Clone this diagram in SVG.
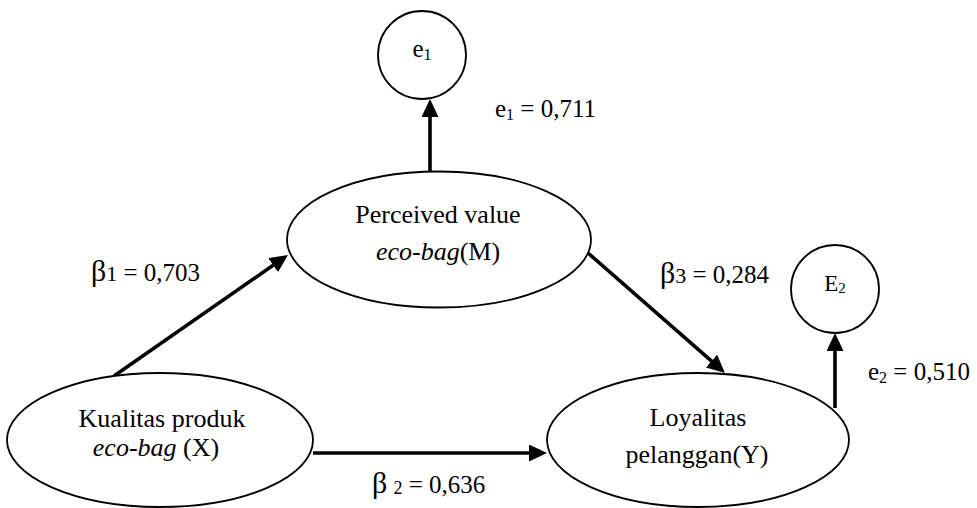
<svg xmlns="http://www.w3.org/2000/svg" width="977" height="508" viewBox="0 0 977 508">
<style>
.node{fill:#fff;stroke:#000;stroke-width:1.8}
.t{font-family:"Liberation Serif","Times New Roman",serif;fill:#000}
.nt{font-size:26px;text-anchor:middle}
.lb{font-size:25px}
.edge{stroke:#000;stroke-width:3.6;fill:none;marker-end:url(#ah)}
.i{font-style:italic}
</style>
<defs>
<marker id="ah" viewBox="0 0 18 17" refX="10" refY="8.5" markerWidth="18" markerHeight="17" orient="auto" markerUnits="userSpaceOnUse">
<path d="M0,0 L18,8.5 L0,17 Z" fill="#000"/>
</marker>
</defs>
<rect width="977" height="508" fill="#fff"/>
<g id="connectors">
<line class="edge" x1="430" y1="172" x2="430" y2="107"/>
<line class="edge" x1="114" y1="376" x2="281.4" y2="259.5"/>
<line class="edge" x1="313" y1="453" x2="539" y2="453"/>
<line class="edge" x1="588" y1="253" x2="719" y2="367.7"/>
<line class="edge" x1="835" y1="408" x2="835" y2="341"/>
</g>
<g id="node-e1">
<circle class="node" cx="422" cy="55" r="44"/>
<text class="t" x="422" y="57" font-size="25" text-anchor="middle">e<tspan font-size="16" dy="3">1</tspan></text>
</g>
<g id="node-M">
<ellipse class="node" cx="439" cy="239.5" rx="152" ry="68"/>
<text class="t nt" x="438" y="223">Perceived value</text>
<text class="t nt" x="438" y="260"><tspan class="i">eco-bag</tspan>(M)</text>
</g>
<g id="node-X">
<ellipse class="node" cx="160" cy="440" rx="153" ry="67"/>
<text class="t nt" x="162" y="427">Kualitas produk</text>
<text class="t nt" x="156" y="456"><tspan class="i">eco-bag</tspan> (X)</text>
</g>
<g id="node-Y">
<ellipse class="node" cx="698" cy="440" rx="151" ry="67"/>
<text class="t nt" x="698" y="426">Loyalitas</text>
<text class="t nt" x="697" y="463">pelanggan(Y)</text>
</g>
<g id="node-E2">
<circle class="node" cx="835" cy="289" r="44"/>
<text class="t" x="835" y="291" font-size="23" text-anchor="middle">E<tspan font-size="15" dy="2">2</tspan></text>
</g>
<g id="labels">
<text class="t lb" x="495" y="117">e<tspan font-size="16" dy="3">1</tspan><tspan dy="-3"> = 0,711</tspan></text>
<text class="t lb" x="868" y="380">e<tspan font-size="16" dy="3">2</tspan><tspan dy="-3"> = 0,510</tspan></text>
<text class="t lb" x="91" y="281"><tspan font-size="30">β</tspan><tspan font-size="22">1</tspan> = 0,703</text>
<text class="t lb" x="660" y="283"><tspan font-size="30">β</tspan><tspan font-size="22">3</tspan> = 0,284</text>
<text class="t lb" x="372" y="493"><tspan font-size="30">β</tspan> <tspan font-size="18" dy="1">2</tspan><tspan dy="-1"> = 0,636</tspan></text>
</g>
</svg>
